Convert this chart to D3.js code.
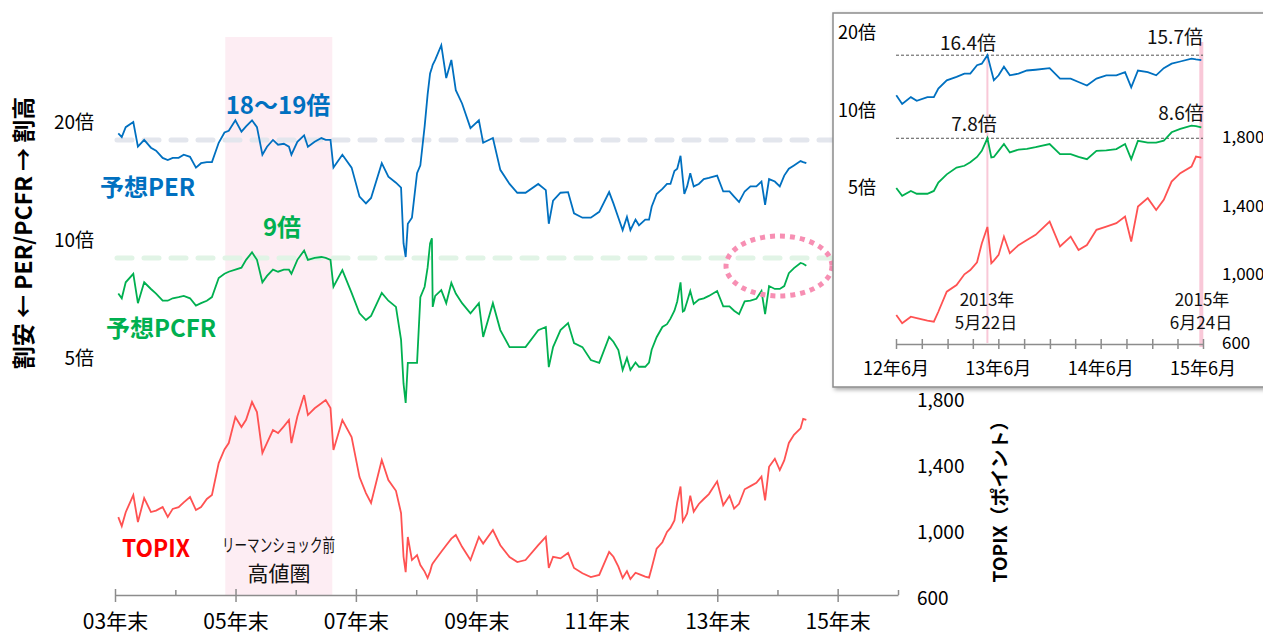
<!DOCTYPE html>
<html>
<head>
<meta charset="utf-8">
<script src="https://cdn.jsdelivr.net/npm/d3@7"></script>
<style>
  body { margin: 0; background: #fff; }
  text { font-family: "Noto Sans CJK JP", "Noto Sans", sans-serif; }
</style>
</head>
<body>
<svg width="1263" height="637"></svg>
<script>
// Data (approximate)
const dates = [
  "2004-01-20","2004-02-10","2004-03-05","2004-04-20","2004-05-18","2004-06-25","2004-08-05","2004-09-05","2004-10-15","2004-11-15","2004-12-15",
  "2005-01-20","2005-02-20","2005-03-30","2005-05-05","2005-06-05","2005-07-10","2005-08-10","2005-09-20","2005-10-25","2005-11-20","2005-12-30",
  "2006-02-05","2006-03-05","2006-04-10","2006-05-10","2006-06-12","2006-07-10","2006-08-15","2006-09-15","2006-10-20","2006-11-20","2006-12-05",
  "2007-01-10","2007-02-20","2007-03-15","2007-04-25","2007-06-05","2007-07-01","2007-07-30","2007-08-17","2007-10-10","2007-12-05",
  "2008-01-22","2008-03-01","2008-04-01","2008-06-05","2008-07-15","2008-08-30","2008-09-30","2008-10-15","2008-10-28","2008-11-10","2008-12-05",
  "2009-01-05","2009-01-25","2009-02-20","2009-03-10","2009-03-25","2009-04-05","2009-04-10","2009-04-25","2009-06-01","2009-07-01","2009-08-01","2009-08-28","2009-10-05","2009-11-25",
  "2010-01-15","2010-02-10","2010-04-10","2010-05-25","2010-07-20","2010-09-05","2010-10-25",
  "2011-01-10","2011-02-25","2011-03-15","2011-04-10","2011-05-25","2011-07-10","2011-08-15","2011-10-05","2011-11-25",
  "2012-01-15","2012-03-15","2012-04-10","2012-05-10","2012-06-05","2012-07-01","2012-07-22","2012-08-22","2012-09-12","2012-10-20","2012-11-12","2012-11-28","2012-12-28",
  "2013-02-01","2013-03-01","2013-03-22","2013-04-15","2013-05-02","2013-05-22","2013-06-05","2013-06-14","2013-07-01","2013-07-20","2013-08-10","2013-09-10","2013-10-10","2013-11-10","2013-12-30",
  "2014-02-05","2014-03-15","2014-04-12","2014-05-12","2014-06-15","2014-07-20","2014-08-25","2014-09-25","2014-10-17","2014-11-10","2014-12-15",
  "2015-01-14","2015-02-10","2015-03-10","2015-04-10","2015-05-20","2015-06-05","2015-06-24"
];
const per = [
  18.7,18.3,19.4,20.0,17.3,18.0,17.2,16.9,16.2,16.0,16.2,
  16.2,16.5,16.3,15.3,15.7,15.8,15.8,17.7,18.8,19.0,20.2,
  18.9,19.5,20.2,19.4,16.5,17.3,18.0,17.5,17.6,17.3,16.5,
  17.8,18.5,17.3,17.8,18.2,18.0,18.0,15.3,16.5,15.3,
  12.9,12.4,12.8,15.7,14.5,14.0,13.6,9.8,9.05,11.0,11.4,
  14.8,15.5,19.5,23.5,26.6,27.5,28.0,28.8,31.4,25.9,28.8,24.1,22.3,19.3,
  20.2,17.7,18.2,15.1,13.9,13.2,13.2,
  13.9,13.4,11.0,12.6,13.2,13.25,11.7,11.4,11.4,
  11.8,13.25,12.4,11.4,10.6,11.45,10.6,11.27,10.9,11.27,11.27,12.16,13.1,
  13.5,13.9,13.9,15.0,15.2,16.4,14.3,13.1,13.7,14.8,13.7,13.9,14.3,14.4,14.6,
  13.3,13.3,12.9,12.5,13.3,13.7,13.7,14.1,12.3,14.3,14.1,
  13.7,14.6,15.2,15.5,15.9,15.8,15.7
];
const pcfr = [
  7.3,7.1,7.8,8.2,6.9,7.8,7.5,7.3,7.0,7.0,7.1,
  7.15,7.2,7.1,6.8,6.9,7.0,7.15,8.0,8.2,8.3,8.4,
  8.5,8.9,9.3,8.9,7.8,8.1,8.4,8.3,8.4,8.4,8.2,
  8.9,9.4,8.9,9.0,9.05,9.0,8.9,7.6,8.38,7.33,
  6.5,6.25,6.4,7.33,7.0,6.75,5.56,4.3,3.84,4.86,4.86,
  4.86,7.15,7.6,8.5,9.8,10.1,6.75,7.2,7.45,6.9,7.77,7.3,6.9,6.5,
  6.9,5.66,6.9,5.89,5.33,5.33,5.33,
  5.89,6.0,4.74,5.33,5.89,6.14,5.46,5.33,4.94,
  4.86,5.66,5.5,5.24,4.66,5.0,4.66,4.87,4.75,4.75,4.87,5.25,5.65,
  6.0,6.1,6.3,6.6,6.97,7.8,6.57,6.6,6.97,7.41,6.87,7.05,7.1,7.2,7.41,
  6.77,6.77,6.6,6.47,6.97,7.0,7.08,7.41,6.47,7.63,7.5,
  7.5,7.63,8.23,8.48,8.74,8.7,8.6
];
const topix = [
  1090,1036,1120,1224,1060,1206,1121,1130,1151,1091,1140,
  1151,1180,1212,1133,1151,1200,1224,1418,1500,1539,1697,
  1636,1680,1788,1727,1479,1540,1618,1600,1640,1679,1539,
  1700,1830,1709,1750,1780,1800,1751,1497,1679,1576,
  1333,1236,1176,1436,1315,1250,1115,850,757,970,830,
  860,800,760,721,760,800,810,830,880,920,960,982,910,830,
  970,930,1012,920,848,818,830,
  920,970,782,850,840,873,782,750,727,
  740,879,850,790,721,763,715,753,745,730,724,782,899,
  938,1000,1025,1070,1180,1276,1065,1080,1113,1220,1123,1170,1200,1230,1307,
  1162,1220,1142,1171,1259,1278,1298,1336,1191,1395,1444,
  1375,1434,1540,1589,1628,1686,1680
];

const mainMajorTicks = ["2003-12-31","2005-12-31","2007-12-31","2009-12-31","2011-12-31","2013-12-31","2015-12-31"];
const mainTickLabels = ["03年末","05年末","07年末","09年末","11年末","13年末","15年末"];
const mainMinorTicks = ["2004-12-31","2006-12-31","2008-12-31","2010-12-31","2012-12-31","2014-12-31","2016-12-31"];
const ratioTicks = [20, 10, 5];
const topixTicks = [1800, 1400, 1000, 600];
const bandDates = ["2005-10-30", "2007-08-10"];   // リーマンショック前 高値圏
const refLevels = [18, 9];                        // 18〜19倍 / 9倍

const insetMajorTicks = ["2012-06-30","2013-06-30","2014-06-30","2015-06-30"];
const insetTickLabels = ["12年6月","13年6月","14年6月","15年6月"];
const insetMarkDates = ["2013-05-22", "2015-06-24"];
const insetMarkPer = [16.4, 15.7];
const insetMarkPcfr = [7.8, 8.6];

const parse = d3.timeParse("%Y-%m-%d");
const data = dates.map((d, i) => ({date: parse(d), per: per[i], pcfr: pcfr[i], topix: topix[i]}));

const svg = d3.select("svg");
const blue = "#0070c0", green = "#00b050", red = "#ff5252";

// ---------------- main chart ----------------
const x = d3.scaleTime()
  .domain([parse("2003-12-31"), parse("2016-12-31")])
  .range([115, 898]);
const yR = d3.scaleLog().domain([5, 20]).range([358, 122]);
const yT = d3.scaleLinear().domain([600, 1800]).range([598, 400]);
const axisY = 595;

// pink band
svg.append("rect")
  .attr("x", x(parse(bandDates[0])))
  .attr("y", 37)
  .attr("width", x(parse(bandDates[1])) - x(parse(bandDates[0])))
  .attr("height", axisY - 37)
  .attr("fill", "#fdedf3");

// reference dashes
svg.selectAll(".ref")
  .data(refLevels)
  .enter().append("line")
    .attr("x1", 117).attr("x2", 836)
    .attr("y1", d => yR(d)).attr("y2", d => yR(d))
    .attr("stroke", (d, i) => i === 0 ? "#e3e6ed" : "#e1f4e6")
    .attr("stroke-width", 5)
    .attr("stroke-linecap", "round")
    .attr("stroke-dasharray", "15 12");

// series
const lineRatio = key => d3.line().x(d => x(d.date)).y(d => yR(d[key]));
svg.append("path").datum(data)
  .attr("d", lineRatio("per")).attr("fill", "none").attr("stroke", blue).attr("stroke-width", 1.8);
svg.append("path").datum(data)
  .attr("d", lineRatio("pcfr")).attr("fill", "none").attr("stroke", green).attr("stroke-width", 1.8);
svg.append("path").datum(data)
  .attr("d", d3.line().x(d => x(d.date)).y(d => yT(d.topix)))
  .attr("fill", "none").attr("stroke", red).attr("stroke-width", 1.8);

// x axis
const gx = svg.append("g").attr("transform", `translate(0,${axisY})`);
gx.call(d3.axisBottom(x)
  .tickValues(mainMajorTicks.map(parse))
  .tickSizeInner(7).tickSizeOuter(0)
  .tickFormat((d, i) => mainTickLabels[i]));
gx.select(".domain").attr("stroke", "#8c8c8c").attr("stroke-width", 1.5);
gx.selectAll(".tick line").attr("y1", -6).attr("stroke", "#8c8c8c").attr("stroke-width", 1.5);
gx.selectAll(".tick text").attr("y", 19).attr("font-size", 21).attr("fill", "#000")
  .style("font-family", '"Noto Sans CJK JP", sans-serif');
const gxm = svg.append("g").attr("transform", `translate(0,${axisY})`);
gxm.call(d3.axisBottom(x).tickValues(mainMinorTicks.map(parse)).tickSize(-5).tickFormat(""));
gxm.select(".domain").remove();
gxm.selectAll(".tick line").attr("stroke", "#8c8c8c").attr("stroke-width", 1.5);

// left axis (log)
const gl = svg.append("g").attr("transform", "translate(94,0)");
gl.call(d3.axisLeft(yR).tickValues(ratioTicks).tickSize(0).tickPadding(0).tickFormat(d => d + "倍"));
gl.select(".domain").remove();
gl.selectAll(".tick text").attr("font-size", 19).attr("fill", "#000")
  .style("font-family", '"Noto Sans CJK JP", sans-serif');

// right axis (TOPIX)
const gr = svg.append("g").attr("transform", "translate(917,0)");
gr.call(d3.axisRight(yT).tickValues(topixTicks).tickSize(0).tickPadding(0).tickFormat(d3.format(",")));
gr.select(".domain").remove();
gr.selectAll(".tick text").attr("font-size", 19).attr("fill", "#000")
  .style("font-family", '"Noto Sans CJK JP", sans-serif');

// axis titles
svg.append("text")
  .attr("transform", "translate(32,233) rotate(-90)")
  .attr("text-anchor", "middle")
  .attr("font-size", 23).attr("font-weight", 700)
  .text("割安 ← PER/PCFR → 割高");
svg.append("text")
  .attr("transform", "translate(1007,497) rotate(-90)")
  .attr("text-anchor", "middle")
  .attr("font-size", 19).attr("font-weight", 700)
  .text("TOPIX（ポイント）");

// labels
svg.append("text").attr("x", 100).attr("y", 196)
  .attr("font-size", 24).attr("font-weight", 700).attr("fill", blue).text("予想PER");
svg.append("text").attr("x", 106).attr("y", 337)
  .attr("font-size", 24).attr("font-weight", 700).attr("fill", green).text("予想PCFR");
svg.append("text").attr("x", 278).attr("y", 114).attr("text-anchor", "middle")
  .attr("font-size", 24).attr("font-weight", 700).attr("fill", blue).text("18〜19倍");
svg.append("text").attr("x", 282).attr("y", 236).attr("text-anchor", "middle")
  .attr("font-size", 24).attr("font-weight", 700).attr("fill", green).text("9倍");
svg.append("text").attr("x", 122).attr("y", 557)
  .attr("font-size", 24).attr("font-weight", 700).attr("fill", "#ff0000")
  .attr("textLength", 68).attr("lengthAdjust", "spacingAndGlyphs").text("TOPIX");
svg.append("text").attr("x", 222).attr("y", 552)
  .attr("font-size", 18).attr("fill", "#111")
  .attr("textLength", 113).attr("lengthAdjust", "spacingAndGlyphs").text("リーマンショック前");
svg.append("text").attr("x", 279).attr("y", 581).attr("text-anchor", "middle")
  .attr("font-size", 21).attr("fill", "#111").text("高値圏");

// dotted ellipse
svg.append("ellipse")
  .attr("cx", 779).attr("cy", 266).attr("rx", 53).attr("ry", 30)
  .attr("fill", "none").attr("stroke", "#f78fb3").attr("stroke-width", 5)
  .attr("stroke-dasharray", "5 5");

// ---------------- inset ----------------
const defs = svg.append("defs");
const f = defs.append("filter").attr("id", "shadow").attr("x", "-5%").attr("y", "-5%").attr("width", "115%").attr("height", "115%");
f.append("feDropShadow").attr("dx", 2).attr("dy", 2).attr("stdDeviation", 2)
  .attr("flood-color", "#000").attr("flood-opacity", 0.35);

svg.append("rect")
  .attr("x", 833).attr("y", 13).attr("width", 440).attr("height", 374)
  .attr("fill", "#fff").attr("stroke", "#8c8c8c").attr("stroke-width", 1.5)
  .attr("filter", "url(#shadow)");

const xi = d3.scaleTime().domain([parse("2012-06-30"), parse("2015-06-30")]).range([896, 1203]);
const yiR = d3.scaleLog().domain([5, 20]).range([188, 33]);
const yiT = d3.scaleLinear().domain([600, 1800]).range([343, 137]);
const insetData = data.filter(d => d.date >= parse("2012-06-25"));
const markX = insetMarkDates.map(d => xi(parse(d)));

// highlight verticals
svg.append("line").attr("x1", markX[0]).attr("x2", markX[0]).attr("y1", yiR(insetMarkPer[0])).attr("y2", 343)
  .attr("stroke", "#f9c8d8").attr("stroke-width", 2);
svg.append("line").attr("x1", markX[1]).attr("x2", markX[1]).attr("y1", 42).attr("y2", 347)
  .attr("stroke", "#f9c8d8").attr("stroke-width", 4);

// thin dashed reference lines
[insetMarkPer[0], insetMarkPcfr[0]].forEach(v => {
  svg.append("line").attr("x1", 896).attr("x2", 1203)
    .attr("y1", yiR(v)).attr("y2", yiR(v))
    .attr("stroke", "#555").attr("stroke-width", 1).attr("stroke-dasharray", "3 2");
});

svg.append("path").datum(insetData)
  .attr("d", d3.line().x(d => xi(d.date)).y(d => yiR(d.per)))
  .attr("fill", "none").attr("stroke", blue).attr("stroke-width", 1.8);
svg.append("path").datum(insetData)
  .attr("d", d3.line().x(d => xi(d.date)).y(d => yiR(d.pcfr)))
  .attr("fill", "none").attr("stroke", green).attr("stroke-width", 1.8);
svg.append("path").datum(insetData)
  .attr("d", d3.line().x(d => xi(d.date)).y(d => yiT(d.topix)))
  .attr("fill", "none").attr("stroke", red).attr("stroke-width", 1.8);

// inset x axis
const quarterTicks = d3.timeMonth.every(3).range(parse("2012-06-30"), parse("2015-07-02"))
  .map(d => d3.timeDay.offset(d, -1));
const gix = svg.append("g").attr("transform", "translate(0,344)");
gix.call(d3.axisBottom(xi).tickValues(quarterTicks).tickSizeInner(5).tickSizeOuter(0).tickFormat(""));
gix.select(".domain").attr("stroke", "#8c8c8c").attr("stroke-width", 1.5);
gix.selectAll(".tick line").attr("y1", -5).attr("stroke", "#8c8c8c").attr("stroke-width", 1.5);
svg.selectAll(".ilab")
  .data(insetMajorTicks)
  .enter().append("text")
    .attr("x", d => xi(parse(d)))
    .attr("y", 375)
    .attr("text-anchor", "middle")
    .attr("font-size", 18).attr("fill", "#000")
    .text((d, i) => insetTickLabels[i]);

// inset y axes
const gil = svg.append("g").attr("transform", "translate(876,0)");
gil.call(d3.axisLeft(yiR).tickValues(ratioTicks).tickSize(0).tickPadding(0).tickFormat(d => d + "倍"));
gil.select(".domain").remove();
gil.selectAll(".tick text").attr("font-size", 18).attr("fill", "#000")
  .style("font-family", '"Noto Sans CJK JP", sans-serif');
const gir = svg.append("g").attr("transform", "translate(1222,0)");
gir.call(d3.axisRight(yiT).tickValues(topixTicks).tickSize(0).tickPadding(0).tickFormat(d3.format(",")));
gir.select(".domain").remove();
gir.selectAll(".tick text").attr("font-size", 17).attr("fill", "#000")
  .style("font-family", '"Noto Sans CJK JP", sans-serif');

// inset annotations
const ann = (tx, ty, s) => svg.append("text").attr("x", tx).attr("y", ty)
  .attr("text-anchor", "middle").attr("font-size", 19).attr("fill", "#111").text(s);
ann(968, 50, insetMarkPer[0] + "倍");
ann(1175, 44, insetMarkPer[1] + "倍");
ann(974, 131, insetMarkPcfr[0] + "倍");
ann(1181, 120, insetMarkPcfr[1] + "倍");
const dl = (tx, ty, s) => svg.append("text").attr("x", tx).attr("y", ty)
  .attr("text-anchor", "middle").attr("font-size", 17).attr("fill", "#111").text(s);
dl(987, 306, "2013年");
dl(986, 329, "5月22日");
dl(1202, 306, "2015年");
dl(1201, 329, "6月24日");
</script>
</body>
</html>
